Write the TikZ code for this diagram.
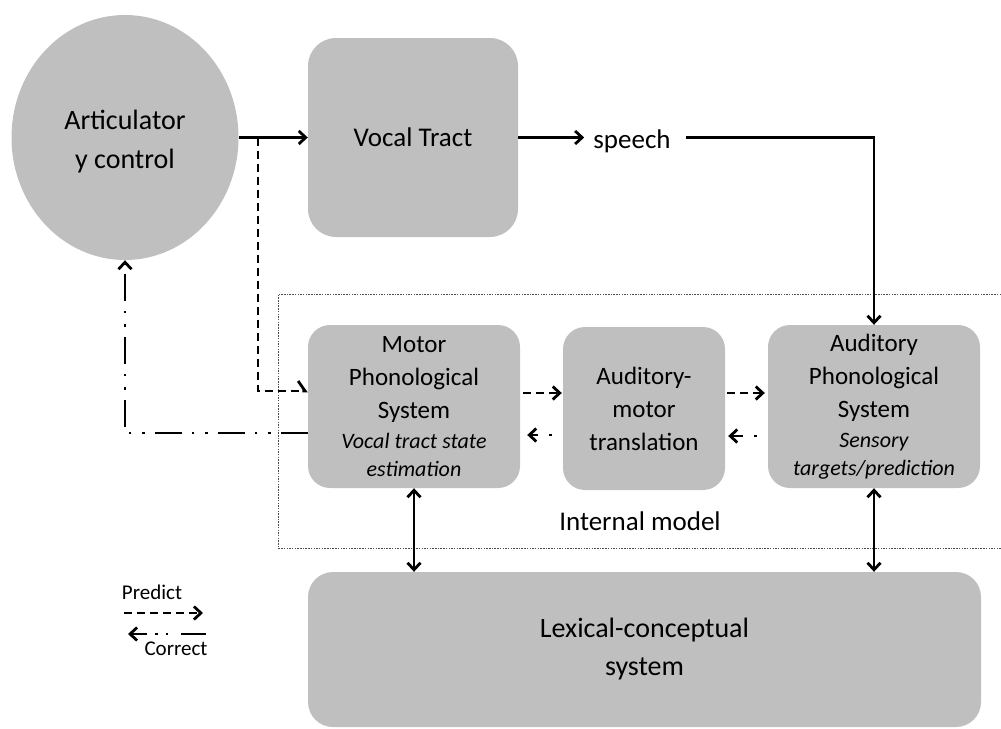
\documentclass[tikz,border=0pt]{standalone}
\usepackage{fontspec}
\setmainfont{Carlito}
\usetikzlibrary{arrows.meta,shapes.geometric,calc}
\definecolor{boxgray}{RGB}{191,191,191}
\newcommand{\itl}{\fontsize{22}{29}\selectfont\itshape}
\begin{document}
\begin{tikzpicture}[x=1pt,y=-1pt,
  box/.style={fill=boxgray,rounded corners=22pt,inner sep=0pt,align=center,font=\fontsize{25}{33}\selectfont},
  conn/.style={line width=2.8pt},
  arr/.style={-{Straight Barb[length=7pt,width=13pt]}},
  darr/.style={{Straight Barb[length=7pt,width=13pt]}-{Straight Barb[length=7pt,width=13pt]}},
  harp/.style={-{Straight Barb[harpoon,length=7pt,width=20pt]}},
  pred/.style={conn,dash pattern=on 8pt off 5pt},
  corr/.style={conn,dash pattern=on 27pt off 10pt on 2.5pt off 11pt on 2.5pt off 10pt},
  shortcorr/.style={conn,dash pattern=on 2.5pt off 11pt on 40pt},
  frame/.style={line width=0.9pt,black!70,dash pattern=on 1.5pt off 1.2pt},
  lbl/.style={inner sep=0pt}
]
\useasboundingbox (0,0) rectangle (1001,728);

% frame of the internal model
\draw[frame] (1001,294) -- (278,294) -- (278,548) -- (1001,548);

% nodes
\node[ellipse,fill=boxgray,minimum width=227pt,minimum height=245pt,inner sep=0pt,align=center,
      font=\fontsize{28}{39}\selectfont] (art) at (125,137.5) {\raisebox{0pt}[28pt][0pt]{}Articulator\\y control};
\node[box,rounded corners=28pt,minimum width=210pt,minimum height=199pt,font=\fontsize{27}{34}\selectfont]
      (vocal) at (413,137.5) {Vocal Tract};
\node[lbl,font=\fontsize{27}{34}\selectfont,inner xsep=9pt] (speech) at (632,141) {speech};

\node[box,minimum width=212pt,minimum height=163pt] (motor) at (414,406.5)
      {Motor\\Phonological\\System\\[-3pt]{\itl Vocal tract state}\\[-5pt]{\itl estimation}};
\node[box,minimum width=162pt,minimum height=163pt] (am) at (644,408.5)
      {Auditory-\\motor\\translation};
\node[box,minimum width=212pt,minimum height=163pt] (aud) at (874,406.5)
      {Auditory\\Phonological\\System\\[-3pt]{\itl Sensory}\\[-5pt]{\itl targets/prediction}};
\node[box,rounded corners=25pt,minimum width=673pt,minimum height=155pt,font=\fontsize{28}{38}\selectfont]
      (lex) at (644.5,649.5) {Lexical-conceptual\\system};
\node[lbl,font=\fontsize{27}{34}\selectfont] (im) at (640,521) {Internal model};

% legend
\node[lbl,font=\fontsize{21}{24}\selectfont] (predict) at (152,592) {Predict};
\node[lbl,font=\fontsize{21}{24}\selectfont] (correct) at (176,649) {Correct};
\coordinate (lp1) at (124,613);
\coordinate (lp2) at (203,613);
\coordinate (lc1) at (206,634);
\coordinate (lc2) at (128,634);
\draw[pred,arr] (lp1) -- (lp2);
\draw[conn,arr,dash pattern=on 25pt off 13pt on 2.5pt off 8pt on 2.5pt off 8pt on 20pt] (lc1) -- (lc2);

% top flow
\coordinate (br) at ($(art.east)!0.28!(vocal.west)$);
\draw[conn,arr] (art.east) -- (vocal.west);
\draw[conn,arr] (vocal.east) -- (vocal.east -| speech.west);
\draw[conn,arr] ($(speech.east|-vocal.east)+(6,0)$) -| (aud.north);

% efference copy to motor system
\draw[pred,harp] (br) |- ($(motor.west)+(0,-15.5)$);

% correction back to articulatory control
\draw[corr,arr] ($(motor.west)+(0,26.5)$) -| (art.south);

% predictions and corrections between boxes
\draw[pred,arr] ($(motor.east)+(3,-13.5)$) -- ($(am.west)+(-1,-15.5)$);
\draw[shortcorr,arr] ($(am.west)+(-11,26.5)$) -- ($(motor.east)+(7,28.5)$);
\draw[pred,arr] ($(am.east)+(2,-15.5)$) -- ($(aud.west)+(-3,-13.5)$);
\draw[shortcorr,arr] ($(aud.west)+(-11,29.5)$) -- ($(am.east)+(3,27.5)$);

% links with the lexical-conceptual system
\draw[conn,darr] (motor.south) -- (motor.south |- lex.north);
\draw[conn,darr] (aud.south) -- (aud.south |- lex.north);
\end{tikzpicture}
\end{document}
